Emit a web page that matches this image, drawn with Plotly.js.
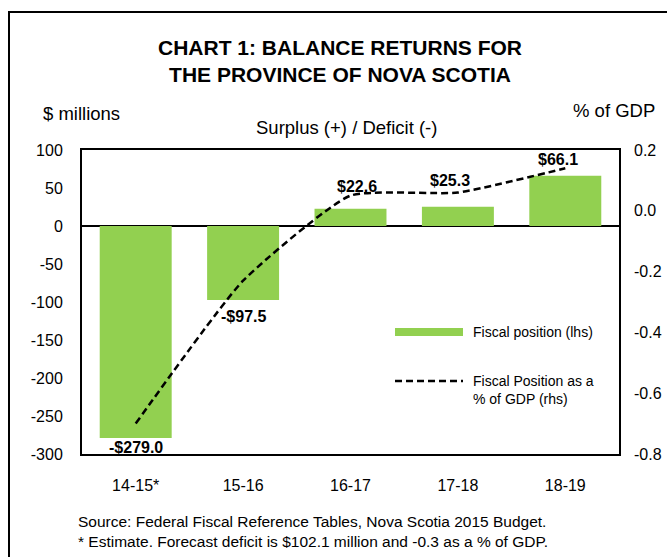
<!DOCTYPE html>
<html><head><meta charset="utf-8">
<script src="https://cdn.plot.ly/plotly-3.0.1.min.js"></script>
<style>html,body{margin:0;padding:0;background:#fff}#chart{width:667px;height:557px}</style>
</head><body><div id="chart"></div>
<script>
// ---- data ----
const categories = ['14-15*', '15-16', '16-17', '17-18', '18-19'];
const fiscalPosition = [-279.0, -97.5, 22.6, 25.3, 66.1];          // $ millions (lhs)
const fiscalPctGDP = [-0.70, -0.23, 0.05, 0.06, 0.14];            // % of GDP (rhs)
const leftTicks = [100, 50, 0, -50, -100, -150, -200, -250, -300];
const rightTicks = [0.2, 0.0, -0.2, -0.4, -0.6, -0.8];

// ---- label offsets (pixels, layout only) ----
const labelXShift = [0, 0, 6, -8, -7];
const labelYShift = [-9, -16, 22, 26, 16];

const W = 667, H = 557, ML = 82, MR = 48, MT = 150, MB = 103;
const pw = W - ML - MR, ph = H - MT - MB;
const px = x => (x - ML) / pw;
const py = y => (H - MB - y) / ph;

const FONT = 'Liberation Sans, Arial, sans-serif';
const GREEN = '#92D050';

function fmt(v) { return (v < 0 ? '-$' : '$') + Math.abs(v).toFixed(1); }

const bars = {
  type: 'bar', x: categories, y: fiscalPosition, name: 'Fiscal position (lhs)',
  marker: { color: GREEN, line: { width: 0 } }, yaxis: 'y', showlegend: false,
  hoverinfo: 'x+y'
};
const line = {
  type: 'scatter', mode: 'lines', x: categories, y: fiscalPctGDP,
  name: 'Fiscal Position as a % of GDP (rhs)', yaxis: 'y2', showlegend: false,
  line: { color: '#000', width: 2.5, dash: '7px,4px', shape: 'spline', smoothing: 0.5 }
};

const annotations = fiscalPosition.map((v, i) => ({
  x: categories[i], y: v, xref: 'x', yref: 'y', text: '<b>' + fmt(v) + '</b>',
  showarrow: false, xanchor: 'center', yanchor: 'middle',
  xshift: labelXShift[i], yshift: labelYShift[i],
  font: { family: FONT, size: 16, color: '#000' }
}));

annotations.push(
  { xref: 'paper', yref: 'paper', x: px(346), y: py(128), text: 'Surplus (+) / Deficit (-)',
    showarrow: false, xanchor: 'center', yanchor: 'middle', font: { family: FONT, size: 18.5, color: '#000' } },
  { xref: 'paper', yref: 'paper', x: px(41), y: py(113), text: '$ millions',
    showarrow: false, xanchor: 'left', yanchor: 'middle', font: { family: FONT, size: 18.5, color: '#000' } },
  { xref: 'paper', yref: 'paper', x: px(657), y: py(110), text: '% of GDP',
    showarrow: false, xanchor: 'right', yanchor: 'middle', font: { family: FONT, size: 18.5, color: '#000' } },
  { xref: 'paper', yref: 'paper', x: px(471), y: py(332), text: 'Fiscal position (lhs)',
    showarrow: false, xanchor: 'left', yanchor: 'middle', font: { family: FONT, size: 14, color: '#000' } },
  { xref: 'paper', yref: 'paper', x: px(471), y: py(389.5), text: 'Fiscal Position as a<br>% of GDP (rhs)',
    showarrow: false, xanchor: 'left', yanchor: 'middle', align: 'left', font: { family: FONT, size: 14, color: '#000' } },
  { xref: 'paper', yref: 'paper', x: px(76), y: py(531), align: 'left',
    text: 'Source: Federal Fiscal Reference Tables, Nova Scotia 2015 Budget.<br>* Estimate. Forecast deficit is $102.1 million and -0.3 as a % of GDP.',
    showarrow: false, xanchor: 'left', yanchor: 'middle', font: { family: FONT, size: 15.5, color: '#000' } }
);

const shapes = [
  { type: 'rect', xref: 'paper', yref: 'paper', x0: px(9), y0: py(12), x1: px(720), y1: py(620),
    line: { color: '#000', width: 2 }, fillcolor: 'rgba(0,0,0,0)', layer: 'below' },
  { type: 'rect', xref: 'paper', yref: 'paper', x0: px(395), x1: px(463), y0: py(336), y1: py(328),
    line: { width: 0 }, fillcolor: GREEN },
  { type: 'line', xref: 'paper', yref: 'paper', x0: px(395), x1: px(463), y0: py(381), y1: py(381),
    line: { color: '#000', width: 2.5, dash: '7px,4px' } }
];

const layout = {
  width: W, height: H,
  margin: { l: ML, r: MR, t: MT, b: MB, pad: 0 },
  paper_bgcolor: '#fff', plot_bgcolor: '#fff',
  font: { family: FONT, size: 16, color: '#000' },
  title: {
    text: '<b>CHART 1: BALANCE RETURNS FOR<br>THE PROVINCE OF NOVA SCOTIA</b>',
    font: { family: FONT, size: 21, color: '#000' },
    x: 340 / W, xanchor: 'center', xref: 'container', yref: 'container', y: 1 - 55 / H, yanchor: 'middle'
  },
  bargap: 0.33,
  showlegend: false,
  xaxis: {
    type: 'category', showline: true, linecolor: '#000', linewidth: 2, mirror: true,
    ticks: '', showgrid: false, zeroline: false, ticklabelstandoff: 16,
    tickfont: { family: FONT, size: 16, color: '#000' }
  },
  yaxis: {
    range: [-300, 100], tickvals: leftTicks, ticktext: leftTicks.map(String),
    showline: true, linecolor: '#000', linewidth: 2, mirror: true,
    ticks: '', showgrid: false, zeroline: true, zerolinecolor: '#000', zerolinewidth: 2,
    ticklabelstandoff: 14, tickfont: { family: FONT, size: 16, color: '#000' }
  },
  yaxis2: {
    overlaying: 'y', side: 'right', range: [-0.8, 0.2], tickvals: rightTicks,
    ticktext: rightTicks.map(v => v.toFixed(1)),
    showline: false, ticks: '', showgrid: false, zeroline: false,
    ticklabelstandoff: 14, tickfont: { family: FONT, size: 16, color: '#000' }
  },
  annotations: annotations,
  shapes: shapes
};

Plotly.newPlot('chart', [bars, line], layout, { displayModeBar: false, staticPlot: true });
</script>
</body></html>
